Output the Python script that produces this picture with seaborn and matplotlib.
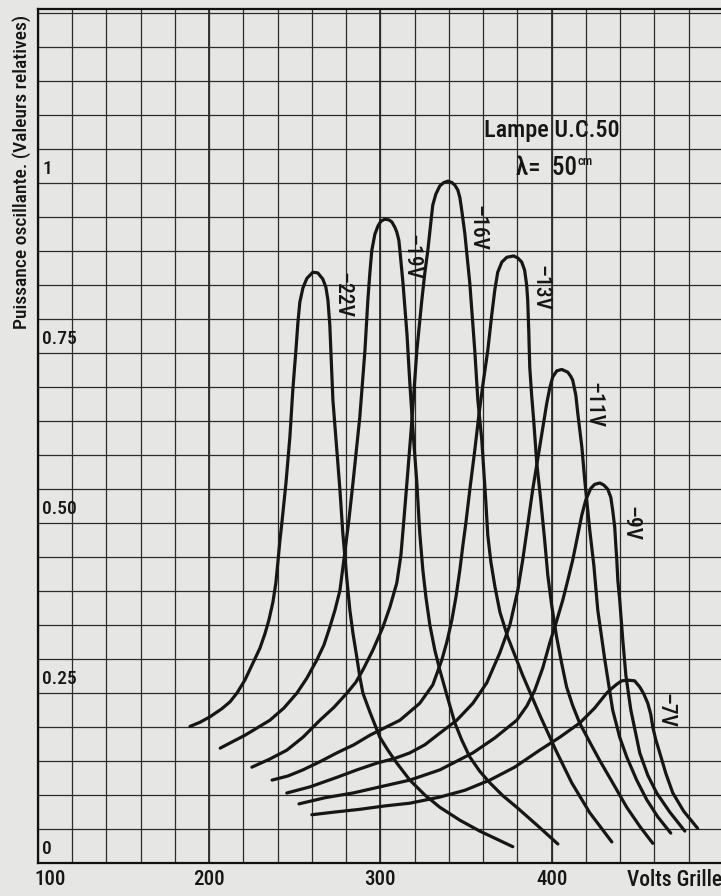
import numpy as np
import pandas as pd
import matplotlib
matplotlib.use("Agg")
import matplotlib.pyplot as plt
import seaborn as sns

PAPER = "#e6e6e4"
INK = "#161616"
GRID = "#2b2b2b"

# --- curves (volts grille, relative power) ---
V22_X = [188.9, 194.7, 200.5, 207.5, 212.2, 216.3, 220.9, 225.6, 229.7, 232.6, 234.9, 237.3,
         239.0, 240.2, 241.4, 242.5, 244.9, 247.2, 248.9, 250.7, 251.9, 253.0, 254.8, 257.1,
         260.6, 263.5, 266.4, 268.2, 269.4, 270.5, 271.1, 272.3, 274.6, 276.4, 278.1, 280.5,
         282.2, 284.0, 286.3, 288.0, 289.8, 293.9, 299.7, 304.4, 309.6, 317.2, 326.0, 334.7,
         346.4, 358.0, 377.3]
V22_Y = [0.201, 0.207, 0.215, 0.227, 0.237, 0.250, 0.269, 0.294, 0.316, 0.337, 0.357, 0.384,
         0.412, 0.443, 0.475, 0.500, 0.559, 0.627, 0.696, 0.754, 0.796, 0.825, 0.846, 0.860,
         0.869, 0.868, 0.859, 0.847, 0.828, 0.791, 0.754, 0.681, 0.607, 0.549, 0.485, 0.416,
         0.372, 0.338, 0.302, 0.274, 0.250, 0.222, 0.185, 0.166, 0.147, 0.122, 0.100, 0.082,
         0.063, 0.047, 0.024]

V19_X = [206.5, 221.0, 235.5, 243.7, 251.3, 257.1, 263.0, 267.1, 270.5, 273.5, 276.4, 278.7,
         281.6, 284.0, 288.0, 291.0, 292.7, 293.9, 295.0, 296.8, 298.6, 300.3, 302.6, 305.0,
         306.7, 308.5, 309.6, 310.8, 311.4, 313.2, 315.5, 317.2, 319.0, 321.3, 323.0, 324.8,
         326.6, 328.9, 331.8, 334.7, 338.8, 343.5, 347.5, 352.2, 358.0, 363.9, 371.5, 379.6,
         391.3, 403.6]
V19_Y = [0.169, 0.188, 0.210, 0.228, 0.250, 0.272, 0.299, 0.321, 0.347, 0.372, 0.401, 0.446,
         0.504, 0.559, 0.656, 0.754, 0.828, 0.869, 0.901, 0.925, 0.937, 0.944, 0.947, 0.946,
         0.943, 0.935, 0.928, 0.916, 0.901, 0.853, 0.779, 0.706, 0.637, 0.559, 0.485, 0.431,
         0.391, 0.350, 0.313, 0.284, 0.247, 0.206, 0.181, 0.156, 0.135, 0.118, 0.099, 0.082,
         0.056, 0.028]

V16_X = [225.0, 235.5, 245.4, 254.8, 264.7, 272.9, 280.5, 285.7, 289.8, 295.6, 301.5, 305.5,
         309.6, 312.0, 313.7, 316.1, 318.4, 321.3, 324.2, 326.0, 327.7, 329.5, 330.6, 332.4,
         334.7, 337.1, 339.4, 341.7, 343.5, 345.2, 346.4, 347.5, 349.3, 352.2, 355.1, 356.9,
         359.2, 361.5, 362.7, 364.5, 366.9, 369.8, 374.4, 383.1, 393.0, 402.4, 411.7, 422.2,
         435.1]
V16_Y = [0.141, 0.153, 0.166, 0.185, 0.210, 0.229, 0.250, 0.266, 0.284, 0.313, 0.347, 0.376,
         0.412, 0.453, 0.504, 0.578, 0.651, 0.754, 0.828, 0.869, 0.901, 0.943, 0.968, 0.984,
         0.996, 1.001, 1.003, 1.001, 0.997, 0.990, 0.979, 0.960, 0.926, 0.853, 0.754, 0.681,
         0.622, 0.534, 0.482, 0.443, 0.406, 0.369, 0.332, 0.276, 0.218, 0.166, 0.118, 0.074,
         0.031]

V13_X = [236.8, 246.0, 254.8, 264.7, 274.6, 284.6, 293.9, 302.6, 311.4, 323.0, 330.6, 335.9,
         338.8, 341.7, 344.1, 346.4, 348.2, 349.9, 352.2, 355.1, 357.5, 359.8, 362.7, 365.0,
         366.8, 368.5, 370.9, 373.8, 377.8, 380.2, 382.5, 384.2, 385.4, 386.0, 386.6, 387.2,
         388.3, 389.5, 391.3, 393.6, 395.9, 397.7, 400.0, 402.9, 405.8, 408.7, 412.2, 416.3,
         422.2, 428.0, 435.6, 443.8, 451.4, 459.0]
V13_Y = [0.122, 0.128, 0.137, 0.149, 0.162, 0.174, 0.188, 0.199, 0.210, 0.235, 0.262, 0.299,
         0.325, 0.357, 0.391, 0.431, 0.468, 0.500, 0.549, 0.607, 0.659, 0.703, 0.754, 0.806,
         0.843, 0.869, 0.884, 0.891, 0.893, 0.890, 0.884, 0.872, 0.850, 0.828, 0.784, 0.729,
         0.688, 0.651, 0.588, 0.534, 0.475, 0.424, 0.379, 0.332, 0.294, 0.259, 0.232, 0.206,
         0.178, 0.151, 0.118, 0.082, 0.054, 0.029]

V11_X = [245.4, 258.9, 274.6, 286.3, 298.0, 308.5, 317.2, 326.0, 334.7, 344.6, 354.0, 362.1,
         369.7, 375.6, 380.2, 383.1, 386.0, 388.9, 393.0, 397.1, 398.9, 400.6, 403.0, 405.9,
         409.4, 411.1, 412.3, 414.1, 415.2, 417.6, 419.3, 422.2, 424.6, 426.9, 431.0, 435.6,
         439.7, 443.8, 449.6, 455.5, 461.9, 469.5]
V11_Y = [0.103, 0.112, 0.126, 0.137, 0.147, 0.154, 0.162, 0.174, 0.191, 0.210, 0.235, 0.265,
         0.309, 0.350, 0.401, 0.446, 0.497, 0.549, 0.612, 0.676, 0.699, 0.715, 0.724, 0.726,
         0.722, 0.716, 0.710, 0.688, 0.662, 0.612, 0.563, 0.490, 0.438, 0.372, 0.299, 0.225,
         0.185, 0.156, 0.122, 0.093, 0.068, 0.044]

V9_X = [252.5, 267.6, 284.0, 299.7, 317.2, 334.7, 354.0, 366.8, 379.6, 385.5, 390.1, 394.8,
        398.9, 403.0, 406.5, 409.4, 412.3, 415.2, 417.6, 419.9, 422.8, 425.1, 428.1, 430.4,
        432.7, 434.5, 435.6, 436.8, 437.4, 438.0, 438.6, 439.7, 441.5, 443.3, 446.2, 451.4,
        456.1, 461.3, 468.9, 477.7]
V9_Y = [0.087, 0.096, 0.103, 0.112, 0.122, 0.137, 0.162, 0.184, 0.210, 0.231, 0.254, 0.287,
        0.324, 0.357, 0.387, 0.416, 0.446, 0.482, 0.512, 0.534, 0.551, 0.557, 0.559, 0.556,
        0.550, 0.538, 0.519, 0.494, 0.468, 0.446, 0.416, 0.387, 0.328, 0.276, 0.225, 0.162,
        0.129, 0.103, 0.075, 0.047]

V7_X = [260.0, 273.4, 288.0, 302.6, 317.2, 334.7, 349.3, 363.9, 378.4, 393.0, 404.7, 416.4,
        425.1, 432.1, 435.1, 438.0, 440.9, 444.4, 448.4, 451.4, 453.7, 456.1, 457.8, 459.0,
        460.8, 463.1, 466.6, 470.7, 477.1, 485.2]
V7_Y = [0.071, 0.075, 0.079, 0.084, 0.088, 0.097, 0.107, 0.122, 0.141, 0.166, 0.185, 0.206,
        0.228, 0.250, 0.257, 0.263, 0.268, 0.269, 0.268, 0.259, 0.249, 0.235, 0.219, 0.200,
        0.181, 0.162, 0.132, 0.103, 0.076, 0.051]

CURVE_NAMES = ["–22V", "–19V", "–16V", "–13V", "–11V", "–9V", "–7V"]
CURVES_X = [V22_X, V19_X, V16_X, V13_X, V11_X, V9_X, V7_X]
CURVES_Y = [V22_Y, V19_Y, V16_Y, V13_Y, V11_Y, V9_Y, V7_Y]

# where each curve's name is written (rotated, along the right flank)
LABEL_X = [277.7, 318.0, 356.4, 393.2, 424.6, 446.2, 466.6]
LABEL_Y = [0.835, 0.891, 0.934, 0.846, 0.674, 0.499, 0.224]

X_TICKS = [100, 200, 300, 400]
Y_TICKS = [0, 0.25, 0.50, 0.75, 1]
Y_TICK_LABELS = ["0", "0.25", "0.50", "0.75", "1"]


def main():
    frames = []
    for name, xs, ys in zip(CURVE_NAMES, CURVES_X, CURVES_Y):
        frames.append(pd.DataFrame({"volts": xs, "puissance": ys, "grille": name}))
    df = pd.concat(frames, ignore_index=True)

    sns.set_style("white")
    plt.rcParams["font.family"] = ["Roboto Condensed", "Liberation Sans Narrow", "DejaVu Sans"]
    plt.rcParams["font.stretch"] = "condensed"
    plt.rcParams["font.weight"] = "medium"

    fig = plt.figure(figsize=(7.21, 8.96), dpi=100, facecolor=PAPER)
    ax = fig.add_axes([0.0523, 0.0368, 0.9505, 0.953])
    ax.set_facecolor(PAPER)

    # --- graph paper ---
    ax.set_xlim(100, 500)
    ax.set_ylim(0, 1.256)
    ax.set_xticks(np.arange(100, 501, 20))
    ax.set_yticks(np.arange(0, 1.2501, 0.05))
    ax.grid(True, color=GRID, lw=0.9)
    ax.set_axisbelow(True)
    for v in X_TICKS[1:]:
        ax.axvline(v, color=GRID, lw=1.3, zorder=0.6)
    ax.tick_params(length=0, labelbottom=False, labelleft=False)
    for sp in ax.spines.values():
        sp.set_color("#111111")
        sp.set_linewidth(1.6)

    # --- curves ---
    sns.lineplot(data=df, x="volts", y="puissance", units="grille", estimator=None,
                 sort=False, color=INK, lw=2.3, legend=False, ax=ax)
    for line in ax.lines:
        line.set_solid_joinstyle("round")
        line.set_solid_capstyle("round")
    ax.set_xlabel("")
    ax.set_ylabel("")

    for name, lx, ly in zip(CURVE_NAMES, LABEL_X, LABEL_Y):
        ax.text(lx, ly, name, rotation=-90, ha="center", va="center",
                fontsize=15.5, color=INK)

    # --- axis texts ---
    for val, lab in zip(Y_TICKS, Y_TICK_LABELS):
        ax.text(102.6, val + 0.008, lab, ha="left", va="bottom", fontsize=14, color=INK)
    xtrans = ax.get_xaxis_transform()
    for val in X_TICKS:
        ax.text(val - 1.8 if val == 100 else val, -0.0195, str(val),
                ha="left" if val == 100 else "center", va="center",
                fontsize=15, color=INK, transform=xtrans)
    ax.text(499.5, -0.0195, "Volts Grille", ha="right", va="center",
            fontsize=15.5, color=INK, transform=xtrans)
    fig.text(0.030, 0.808, "Puissance oscillante. (Valeurs relatives)", rotation=90,
             ha="center", va="center", fontsize=14, color=INK)

    ax.text(400.2, 1.078, "Lampe U.C.50", ha="center", va="center", fontsize=17.5, color=INK)
    ax.text(414.8, 1.022, "λ=  50", ha="right", va="center", fontsize=18, color=INK)
    ax.text(415.3, 1.032, "cm", ha="left", va="center", fontsize=9, color=INK)

    fig.savefig("out.png", dpi=100, facecolor=PAPER)


if __name__ == "__main__":
    main()
